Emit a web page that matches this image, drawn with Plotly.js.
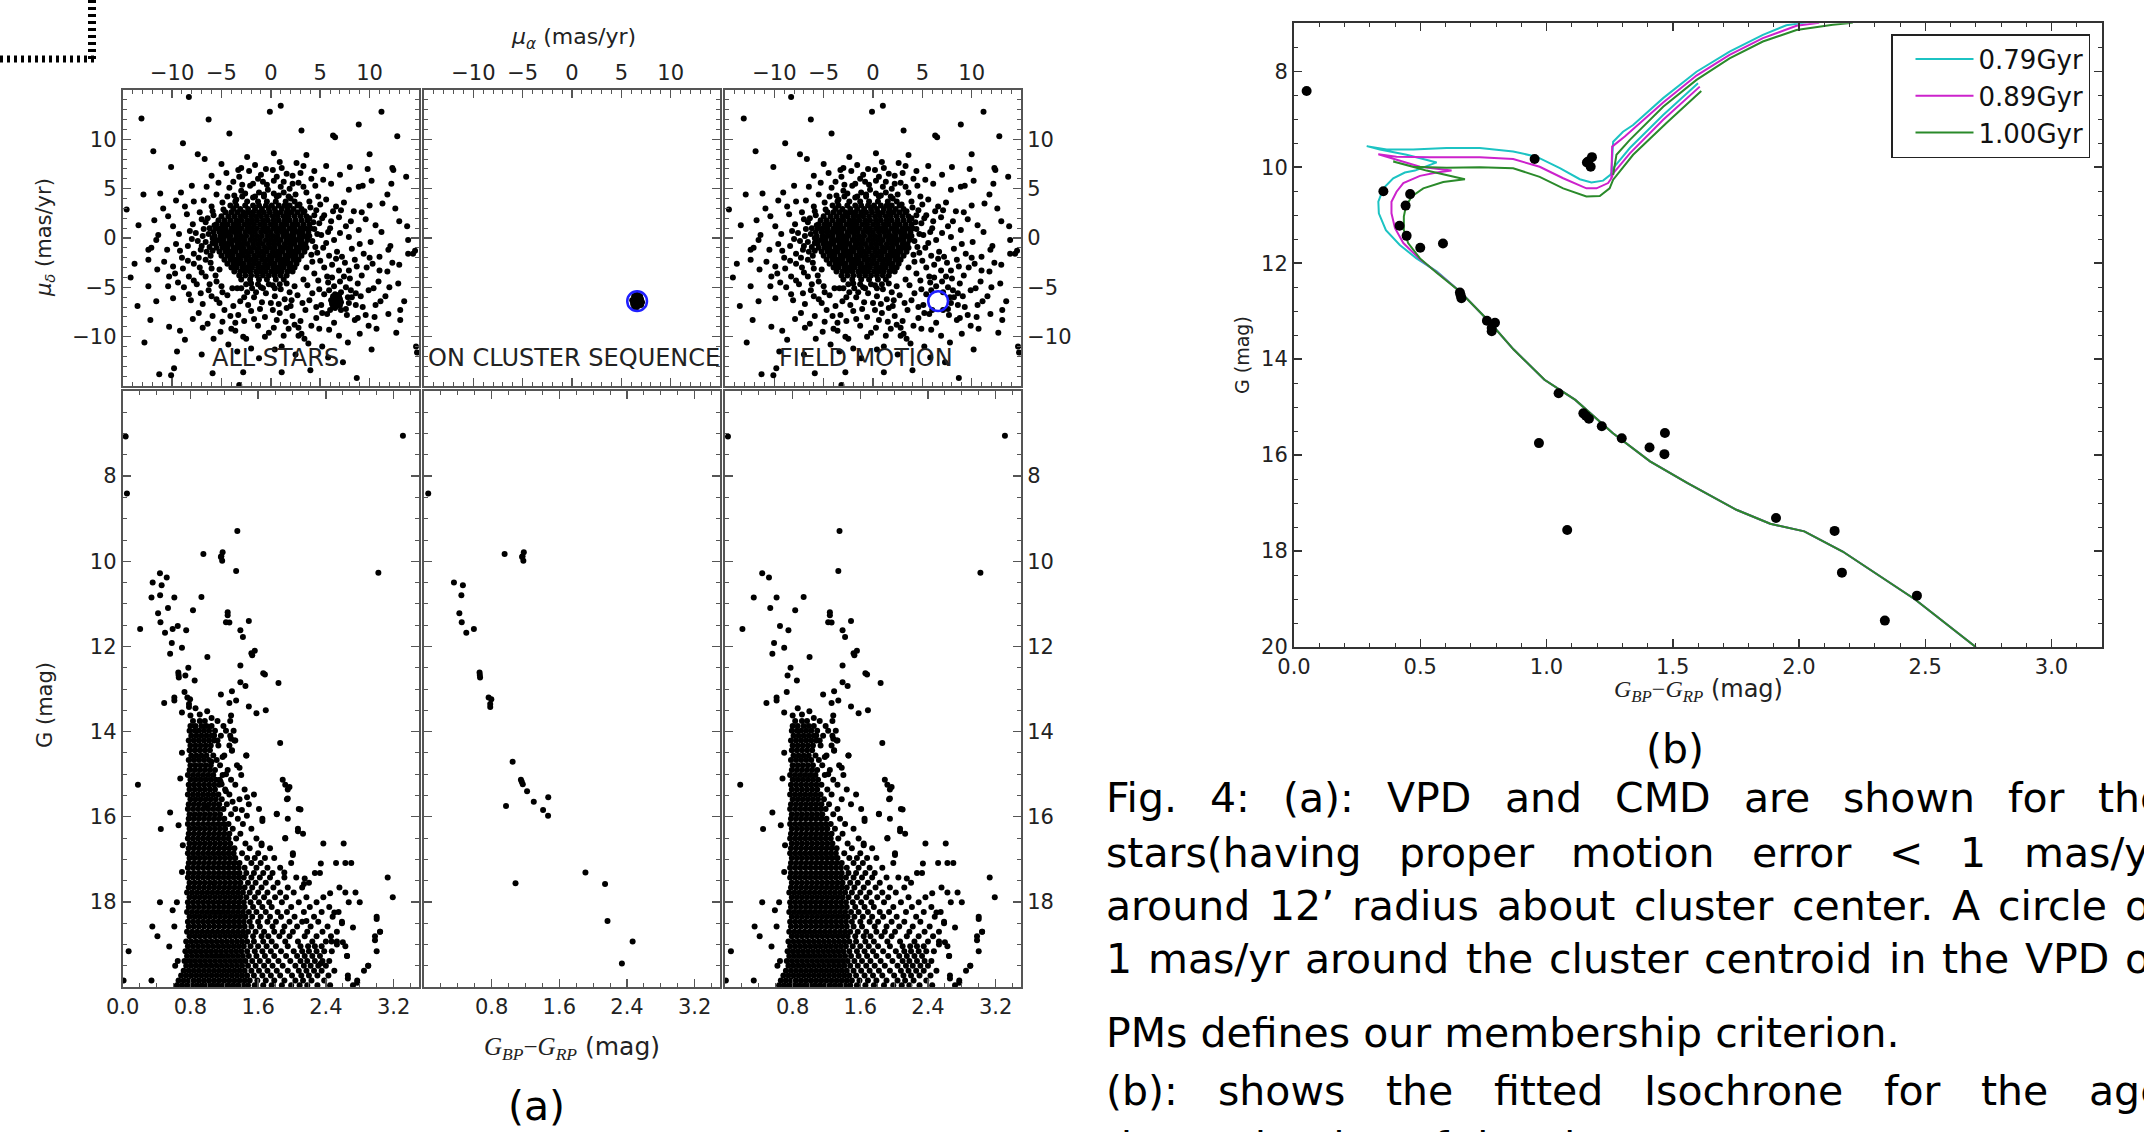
<!DOCTYPE html>
<html><head><meta charset="utf-8">
<script src="https://cdn.plot.ly/plotly-3.0.1.min.js"></script>
<style>html,body{margin:0;padding:0;background:#fff;}#chart{width:2144px;height:1132px;}</style>
</head><body><div id="chart"></div>
<script>
// ================= DATA =================
// Proper motions (mas/yr) of cluster members (inside 1 mas/yr circle)
const memPmra  = [6.6,6.3,6.9,6.5,6.7,6.2,7.0,6.4,6.8,6.6,6.1,7.1,6.5,6.7,6.3,6.9,6.6,6.4,6.8,6.5,6.7,7.0,6.2,6.6,6.4,6.9,6.7,6.5,6.3,6.8,6.6,6.7,6.4,7.0,6.5,6.7];
const memPmdec = [-6.4,-6.1,-6.6,-6.8,-6.0,-6.5,-6.2,-7.0,-6.7,-5.8,-6.3,-6.5,-6.3,-6.9,-5.9,-6.0,-6.2,-6.6,-6.3,-7.1,-6.5,-6.8,-6.7,-6.1,-6.4,-5.9,-6.2,-5.7,-7.0,-6.1,-6.7,-6.4,-6.0,-6.4,-6.6,-5.8];
const pmCentroid = [6.6, -6.4];
const pmRadius = 1.0;

// Field stars proper motions: outliers and halo [pmra, pmdec]
const vpdFieldPairs = [
[-8.3,14.3],[-0.1,12.8],[1.0,13.4],[6.3,10.4],[6.5,10.2],[-8.9,9.6],[-7.4,8.5],[-6.7,8.0],[-10.1,7.2],[10.0,8.5],[12.3,7.1],[12.4,6.9],[13.7,6.2],[-1.6,7.4],[-3.0,7.1],[0.9,7.7],[1.1,7.1],[3.3,7.3],[5.6,7.3],[-6.5,5.2],[-1.8,5.5],[-0.8,5.7],[0.3,5.8],[1.3,5.7],[4.5,5.3],[5.3,5.9],[6.1,5.5],[7.9,4.9],[8.9,5.2],[9.3,5.3],[10.2,5.8],[-9.6,3.8],[-7.8,3.7],[-6.8,3.8],[-10.4,2.2],[-8.7,3.2],[-8.5,2.4],[6.6,3.2],[10.0,3.3],[11.3,3.5],[13.0,1.7],[13.8,1.2],[-13.4,1.3],[-11.4,0.3],[-11.6,-0.2],[-12.4,-1.2],[-12.1,-1.0],[-10.5,-1.2],[-12.4,-2.2],[-11.5,-3.2],[-14.2,-4.0],[-12.4,-4.9],[-11.6,-6.4],[-10.4,-4.9],[-9.9,-6.1],[-12.2,-8.3],[-10.3,-9.0],[-9.2,-9.4],[-8.7,-10.3],[-5.8,-10.2],[-4.0,-9.2],[-3.6,-9.4],[-2.8,-10.0],[-2.5,-10.2],[-0.6,-10.0],[1.8,-9.2],[2.8,-9.1],[3.1,-9.7],[3.4,-10.2],[3.8,-10.7],[4.9,-9.2],[8.5,-8.3],[8.8,-8.1],[9.9,-8.9],[10.7,-9.2],[10.2,-11.3],[13.1,-8.3],[13.1,-7.3],[13.5,-6.4],[12.9,-4.6],[13.0,-2.7],[13.9,-1.6],[14.4,-1.6],[14.6,-1.3],[13.9,-0.2],[14.7,-11.0],[8.7,-14.2],[-11.3,-13.8],[-10.1,-13.9],[-9.8,-13.2],[-5.9,-13.7],[-2.8,-13.6],[1.1,-13.6],[4.0,-13.4],[1.1,-11.0],[0.4,-11.3],[7.3,-12.6],[2.8,-9.9],[7.1,-7.3],[-3.2,-14.9],[14.8,-11.6],
[-4.5,6.6],[-3.2,6.2],[-2.2,6.8],[-1.0,6.4],[0.2,6.9],[2.2,6.3],[2.8,5.6],[-4.2,5.1],[-2.9,5.4],[-0.3,4.9],[1.9,5.0],[3.6,4.6],[-5.5,4.4],[-3.7,4.3],[4.8,4.2],[5.6,3.9],[-6.0,3.2],[-4.9,3.6],[3.9,3.7],[7.4,3.6],[8.4,2.7],[-7.2,2.6],[-5.8,2.3],[4.6,2.8],[5.4,2.3],[6.9,2.1],[9.6,1.9],[-7.9,1.4],[-6.6,1.6],[4.9,1.5],[6.0,1.0],[7.6,1.2],[8.9,0.8],[11.2,0.6],[-9.3,0.4],[-8.2,0.7],[-6.9,0.2],[5.1,0.3],[6.4,-0.2],[7.9,0.1],[10.1,-0.4],[12.1,-0.8],[-9.6,-0.6],[-8.4,-0.8],[-7.1,-1.2],[5.3,-1.0],[6.7,-1.4],[8.2,-1.1],[9.4,-1.6],[11.0,-1.9],[-10.8,-2.4],[-9.0,-2.0],[-7.8,-2.6],[-6.6,-2.2],[5.0,-2.3],[6.2,-2.7],[7.5,-2.5],[8.7,-2.9],[10.3,-2.6],[11.8,-3.4],[-9.7,-3.6],[-8.3,-3.9],[-7.0,-3.5],[-5.6,-3.8],[4.4,-3.6],[5.7,-3.9],[6.9,-3.3],[8.0,-4.1],[9.2,-3.8],[10.9,-4.4],[-8.8,-5.0],[-7.5,-4.7],[-6.3,-5.3],[-5.0,-4.9],[3.7,-4.8],[4.9,-5.2],[7.6,-5.0],[8.6,-5.6],[9.9,-5.3],[11.6,-5.9],[-8.1,-6.3],[-6.9,-6.7],[-5.5,-6.2],[-4.4,-5.8],[-3.1,-6.4],[-1.7,-6.0],[0.0,-6.6],[1.4,-6.2],[2.7,-5.8],[3.9,-6.3],[5.1,-6.8],[7.9,-6.6],[9.3,-7.0],[10.6,-6.8],[-7.3,-7.6],[-5.9,-7.9],[-4.7,-7.3],[-3.3,-7.8],[-2.0,-7.4],[-0.6,-8.0],[0.9,-7.6],[2.2,-7.9],[3.5,-7.3],[4.6,-8.1],[5.7,-7.7],[6.4,-8.6],[7.7,-7.8],[-6.4,-8.7],[-4.9,-8.5],[-1.3,-8.9],[0.3,-9.1],[1.5,-8.5],[4.1,-8.9],[5.9,-9.3],[-2.0,-11.2],[-4.3,-10.8],[5.2,-11.0],
[-6.1,-1.8],[-5.9,-0.5],[-6.2,1.0],[4.2,-0.3],[4.4,0.9],[4.1,-1.7],[3.9,2.0],[-5.2,-3.2],[3.6,-3.0],[-4.8,2.9],[2.9,3.4],[-3.9,-5.1],[2.4,-4.9],[-2.4,-5.5],[1.0,-5.2],[-0.5,-5.6],[-1.2,4.6],[0.8,4.3],[-3.5,3.9],[2.0,4.0],
[5.8,-4.5],[6.4,-4.9],[7.1,-5.5],[5.4,-5.7],[7.8,-6.0],[6.0,-7.3],[8.2,-6.0],[7.0,-4.4],
[-5.9,2.7],[-6.4,2.0],[-7.0,1.9],[-5.7,1.3],[-6.8,0.9],[-7.6,0.5],[-6.3,0.4],[-5.9,0.0],[-6.6,-0.4],[-7.4,-0.3],[-8.0,-0.1],[-6.2,-0.9],[-7.0,-0.8],[-7.8,-1.6],[-6.5,-1.4],[-5.9,-1.3],[-7.3,-2.0],[-8.4,-2.3],[-6.1,-2.5],[-7.2,-3.0],[-6.0,-3.1],[-8.9,-3.1],[-6.6,-3.9],[-7.8,-4.3],[-5.5,-4.4],[-6.2,-4.7],[-4.9,-5.5],[-6.0,-5.9],[-7.1,-5.6],[-9.4,-4.5],[-8.3,-5.7],[-9.2,-1.3],[-9.9,-2.9],[-10.3,-3.9],
[4.5,-0.9],[5.6,-0.5],[4.7,0.4],[5.8,0.6],[4.3,1.6],[5.2,2.0],[6.1,1.7],[4.4,2.3],[3.4,2.7],[4.0,3.1],[5.0,3.4],[6.3,2.7],[4.7,-1.5],[5.9,-1.8],[7.2,-1.9],[4.2,-2.4],[5.4,-3.0],[6.6,-2.1],[7.9,-3.3],[8.5,-2.2],[4.8,-4.3],[6.2,-4.0],[7.4,-3.9],[8.8,-4.6],[9.7,-3.0],[3.3,-4.2],[4.2,-5.6],[5.9,-5.3],[8.1,-5.3],[9.1,-5.9],[7.6,-7.2],[8.6,-6.8],[9.6,-7.8],[4.6,-7.0],[3.2,-6.6],[2.0,-6.9],[3.0,-8.4],[5.2,-7.6],[10.4,-5.1],[11.0,-3.3],[10.0,-2.0],[9.0,-0.6],[7.0,0.5],[8.1,1.7],[7.1,2.8],[9.2,2.6],[10.6,1.3],[11.9,-1.2],[12.3,-2.5],[12.0,-5.0],[11.1,-6.4],[11.9,-7.7],[10.5,-8.0],[9.0,-9.7],[6.9,-9.9],[7.8,-10.6],[12.7,-9.6],
[-2.6,4.5],[-1.8,4.1],[-0.7,4.4],[0.3,4.5],[1.3,4.6],[2.5,4.4],[-4.4,4.2],[-3.0,4.8],[-2.1,5.3],[-0.4,5.4],[1.0,5.2],[2.2,5.5],[3.3,5.2],[-3.8,5.7],[-1.3,6.0],[0.6,6.2],[1.6,6.5],[3.0,6.6],[4.1,6.0],[-5.3,5.6],[-3.3,6.9],[-0.5,7.0],[2.6,7.6],[4.4,6.8],[-6.0,6.3],[-5.0,7.5],[-2.4,8.2],[0.3,8.6],[3.6,8.4],[7.0,6.4],[8.0,7.2],[-8.0,5.3],[-9.1,4.6],[-11.2,4.5],[-10.9,3.0],[-11.8,1.8],[-9.9,1.2],[11.8,4.4],[12.6,3.0],[12.2,5.5],[9.8,7.0],
[-2.0,-4.6],[-1.0,-5.0],[0.2,-4.8],[1.6,-4.6],[-3.0,-5.1],[-1.5,-5.5],[0.4,-5.9],[1.9,-5.5],[-2.7,-6.0],[-0.9,-6.5],[0.8,-6.7],[2.1,-6.3],[-3.8,-6.9],[-2.3,-6.8],[-1.1,-7.2],[0.2,-7.3],[1.6,-7.1],[-5.2,-6.6],[-4.1,-7.9],[-2.7,-8.4],[-1.7,-8.2],[0.6,-8.3],[2.4,-8.8],[-3.6,-8.6],[-0.2,-9.6],[1.3,-9.9],[-5.1,-9.5],[-6.9,-9.1],[-7.9,-8.2],[-3.4,-11.5],[-1.2,-12.2],[2.5,-11.8],[5.8,-12.1],[-7.0,-11.8],[-9.5,-11.5],[-12.8,-10.6],[-13.5,-6.9],[-13.8,-2.6],[-14.6,2.9],[-12.9,4.4],[-11.9,8.8],[-4.2,10.6],[3.1,10.9],[8.9,11.5],[12.8,10.3],[11.2,12.8],[-13.1,12.1],[-6.3,12.0]
];
// Field stars proper motions: dense core, rows of [pmdec, [pmra...]]
const vpdCoreRows = [
[4.2,[-2.9,-1.6,-0.7,0.6,1.8]],
[3.7,[-3.6,-2.4,-1.3,-0.4,0.5,1.5,2.4]],
[3.3,[-4.1,-3.5,-2.6,-1.8,-1.2,-0.5,0.1,0.8,1.4,1.9,2.7]],
[2.95,[-3.8,-3.1,-2.3,-1.6,-0.9,-0.2,0.4,1.1,1.7,2.3,3.1]],
[2.6,[-4.6,-4.0,-3.4,-2.8,-2.3,-1.8,-1.2,-0.7,-0.1,0.5,1.0,1.6,2.1,2.7,3.3]],
[2.2,[-5.0,-4.3,-3.7,-3.1,-2.6,-2.0,-1.5,-1.0,-0.4,0.2,0.7,1.3,1.8,2.4,3.0,3.6]],
[1.8,[-5.3,-4.7,-4.1,-3.5,-3.0,-2.4,-1.9,-1.4,-0.8,-0.3,0.3,0.8,1.4,1.9,2.5,3.1,3.7]],
[1.4,[-5.5,-4.9,-4.4,-3.8,-3.3,-2.7,-2.2,-1.7,-1.1,-0.6,0.0,0.5,1.1,1.6,2.2,2.7,3.3,3.9]],
[1.0,[-5.6,-5.1,-4.6,-4.0,-3.5,-3.0,-2.4,-1.9,-1.4,-0.8,-0.3,0.3,0.8,1.3,1.9,2.4,3.0,3.5,4.0]],
[0.6,[-5.8,-5.2,-4.7,-4.2,-3.7,-3.2,-2.6,-2.1,-1.6,-1.0,-0.5,0.0,0.6,1.1,1.6,2.2,2.7,3.2,3.8]],
[0.2,[-5.7,-5.1,-4.6,-4.1,-3.5,-3.0,-2.5,-1.9,-1.4,-0.9,-0.3,0.2,0.7,1.3,1.8,2.3,2.9,3.4,3.9]],
[-0.2,[-5.8,-5.3,-4.8,-4.2,-3.7,-3.2,-2.7,-2.1,-1.6,-1.1,-0.5,0.0,0.5,1.0,1.6,2.1,2.6,3.1,3.7]],
[-0.6,[-5.6,-5.0,-4.5,-4.0,-3.4,-2.9,-2.4,-1.8,-1.3,-0.8,-0.2,0.3,0.8,1.4,1.9,2.4,3.0,3.5]],
[-1.0,[-5.5,-4.9,-4.4,-3.8,-3.3,-2.8,-2.2,-1.7,-1.2,-0.6,-0.1,0.4,1.0,1.5,2.0,2.6,3.1,3.6]],
[-1.4,[-5.2,-4.6,-4.1,-3.6,-3.0,-2.5,-2.0,-1.4,-0.9,-0.4,0.2,0.7,1.2,1.8,2.3,2.8,3.4]],
[-1.8,[-5.0,-4.4,-3.9,-3.3,-2.8,-2.3,-1.7,-1.2,-0.7,-0.1,0.4,0.9,1.5,2.0,2.5,3.1]],
[-2.2,[-4.7,-4.1,-3.6,-3.1,-2.5,-2.0,-1.5,-0.9,-0.4,0.1,0.7,1.2,1.7,2.3,2.8]],
[-2.6,[-4.4,-3.8,-3.3,-2.8,-2.2,-1.7,-1.2,-0.6,-0.1,0.4,1.0,1.5,2.0,2.6]],
[-3.0,[-4.0,-3.5,-2.9,-2.4,-1.9,-1.3,-0.8,-0.3,0.3,0.8,1.3,1.9,2.4]],
[-3.4,[-3.7,-3.1,-2.6,-2.1,-1.5,-1.0,-0.5,0.1,0.6,1.1,1.7,2.2]],
[-3.8,[-3.2,-2.6,-2.0,-1.4,-0.8,-0.2,0.4,1.0,1.6]],
[-4.2,[-3.0,-2.1,-1.2,-0.4,0.5,1.3]],
[-4.7,[-2.5,-1.3,-0.2,0.9]],
[-5.1,[-3.4,-1.9,-0.8,0.4]]
];

// Cluster members: colour G_BP-G_RP and G magnitude
const memColor = [0.05,0.354,0.46,0.442,0.418,0.446,0.50,0.59,0.953,1.165,1.18,1.175,1.16,0.657,0.663,0.66,0.764,0.796,0.783,0.783,1.048,0.97,1.146,1.156,1.168,1.219,1.298,1.408,1.469,1.467,1.082,1.909,2.141,2.17,2.467,2.34];
const memG     = [8.41,10.5,10.56,10.8,11.22,11.43,11.68,11.59,9.83,9.88,9.79,9.99,9.9,12.61,12.73,12.67,13.2,13.24,13.35,13.42,14.71,15.75,15.13,15.18,15.24,15.4,15.65,15.84,15.54,15.98,17.56,17.31,17.58,18.45,18.93,19.45];

// Field stars CMD: scattered stars [colour, G]
const cmdFieldPairs = [
[0.035,7.07],[3.31,7.05],[1.354,9.29],[1.34,10.23],[3.02,10.27],[0.44,10.28],[0.52,10.38],
[0.34,10.85],[0.61,10.85],[0.93,10.84],[0.535,11.1],[0.83,11.15],
[1.24,11.2],[1.24,11.27],[1.22,11.43],[1.26,11.44],[1.49,11.4],[0.206,11.59],[0.65,11.52],[0.75,11.62],
[1.39,11.62],[1.42,11.78],[0.58,11.92],[0.70,12.03],[0.56,12.17],[1.52,12.16],[1.56,12.1],[1.53,12.21],
[1.0,12.25],[1.39,12.45],[0.775,12.5],[0.74,12.68],[0.85,12.8],[1.66,12.63],[1.68,12.66],
[1.39,12.84],[1.45,12.93],[1.84,12.86],[0.61,13.2],[0.73,13.07],[1.16,13.13],[1.29,13.05],
[0.49,13.33],[0.61,13.27],[1.26,13.33],[1.34,13.27],[1.49,13.41],[1.58,13.57],[1.69,13.5],[1.28,13.62],[0.998,13.52],
[0.86,13.45],[0.91,13.6],[0.7,13.55],[0.8,13.62],[1.05,13.68],
[1.86,14.27],[1.46,14.56],[1.28,14.17],[1.32,14.21],[1.08,14.09],[1.12,14.21],[1.29,14.45],[1.18,14.6],[1.38,14.85],[1.22,15.0],
[0.18,15.25],[0.56,15.9],[0.45,16.29],[0.71,16.67],[1.97,15.3],[1.95,15.57],[1.82,15.93],[2.1,15.83],[1.65,16.1],[2.07,16.34],[1.92,16.5],[1.64,16.67],[2.01,16.9],
[2.59,18.5],[2.53,19.0],[2.65,19.27],[2.77,19.9],[2.66,19.8],[3.0,18.4],[3.04,18.7],[2.98,18.9],[2.9,19.5],[2.34,17.1],[2.15,17.45],[2.45,17.8],[2.5,18.25],[2.72,18.6],[2.6,18.95],[0.59,18.2],[0.55,19.05],[0.7,17.3],[0.66,16.2],[0.68,15.1],[0.7,14.5]
];
// Field stars CMD: dense sequence, rows of [G, [colour...]]
const cmdRows = [
[13.75,[0.83,0.91,0.97,1.12,1.27]],
[13.87,[0.80,0.86,0.93,0.99,1.05,1.19]],
[13.98,[0.79,0.85,0.9,0.96,1.02,1.09,1.22,1.31]],
[14.10,[0.81,0.87,0.93,0.99,1.05,1.16,1.27]],
[14.21,[0.78,0.84,0.9,0.96,1.02,1.08,1.33]],
[14.33,[0.80,0.86,0.92,0.98,1.04,1.13,1.26]],
[14.44,[0.79,0.85,0.91,0.97,1.03,1.29]],
[14.56,[0.81,0.87,0.93,0.99,1.07,1.2,1.46]],
[14.67,[0.78,0.84,0.9,0.96,1.02,1.11]],
[14.79,[0.8,0.86,0.92,0.98,1.04,1.15,1.35]],
[14.90,[0.79,0.85,0.91,0.97,1.03,1.09,1.24]],
[15.02,[0.77,0.83,0.89,0.95,1.01,1.07,1.18,1.4]],
[15.13,[0.8,0.86,0.92,0.98,1.04,1.1,1.28,1.89]],
[15.25,[0.78,0.84,0.9,0.96,1.02,1.08,1.14,1.33,1.92]],
[15.36,[0.79,0.85,0.91,0.97,1.03,1.09,1.21,1.44,1.95]],
[15.48,[0.77,0.83,0.89,0.95,1.01,1.07,1.13,1.26,1.55]],
[15.59,[0.8,0.86,0.92,0.98,1.04,1.1,1.17,1.38,1.94]],
[15.71,[0.78,0.84,0.9,0.96,1.02,1.08,1.14,1.23,1.49]],
[15.82,[0.77,0.83,0.89,0.95,1.01,1.07,1.13,1.19,1.33,1.61,2.08]],
[15.94,[0.79,0.85,0.91,0.97,1.03,1.09,1.15,1.28,1.82]],
[16.05,[0.78,0.84,0.9,0.96,1.02,1.08,1.14,1.2,1.36,1.65,1.95]],
[16.17,[0.77,0.83,0.89,0.95,1.01,1.07,1.13,1.19,1.25,1.42]],
[16.28,[0.79,0.85,0.91,0.97,1.03,1.09,1.15,1.21,1.3,1.52,2.07]],
[16.40,[0.78,0.84,0.9,0.96,1.02,1.08,1.14,1.2,1.26,1.39,2.13]],
[16.51,[0.77,0.83,0.89,0.95,1.01,1.07,1.13,1.19,1.25,1.34,1.58,1.92]],
[16.63,[0.79,0.85,0.91,0.97,1.03,1.09,1.15,1.21,1.27,1.45,1.64,2.37,2.61]],
[16.74,[0.78,0.84,0.9,0.96,1.02,1.08,1.14,1.2,1.26,1.32,1.5,1.74]],
[16.86,[0.77,0.83,0.89,0.95,1.01,1.07,1.13,1.19,1.25,1.31,1.41,1.6,2.01]],
[16.97,[0.79,0.85,0.91,0.97,1.03,1.09,1.15,1.21,1.27,1.33,1.47,1.56,1.68,1.79]],
[17.09,[0.78,0.84,0.9,0.96,1.02,1.08,1.14,1.2,1.26,1.32,1.38,1.52,1.63,1.99,2.52,2.63,2.7]],
[17.20,[0.77,0.83,0.89,0.95,1.01,1.07,1.13,1.19,1.25,1.31,1.37,1.44,1.58,1.71,1.86]],
[17.32,[0.78,0.84,0.9,0.96,1.02,1.08,1.14,1.2,1.26,1.32,1.38,1.46,1.55,1.66,1.77,2.27,2.33]],
[17.43,[0.77,0.83,0.89,0.95,1.01,1.07,1.13,1.19,1.25,1.31,1.37,1.43,1.52,1.62,1.74,1.91,2.05,3.13]],
[17.55,[0.79,0.85,0.91,0.97,1.03,1.09,1.15,1.21,1.27,1.33,1.39,1.48,1.57,1.69,1.83,2.2]],
[17.66,[0.78,0.84,0.9,0.96,1.02,1.08,1.14,1.2,1.26,1.32,1.38,1.44,1.53,1.64,1.78,1.95,2.12,2.56]],
[17.78,[0.76,0.82,0.88,0.94,1.0,1.06,1.12,1.18,1.24,1.3,1.36,1.42,1.5,1.6,1.71,1.86,2.02,2.63,2.75]],
[17.89,[0.79,0.85,0.91,0.97,1.03,1.09,1.15,1.21,1.27,1.33,1.39,1.46,1.56,1.67,1.8,1.93,2.17,2.37,3.19]],
[18.01,[0.44,0.64,0.77,0.83,0.89,0.95,1.01,1.07,1.13,1.19,1.25,1.31,1.37,1.43,1.51,1.61,1.73,1.88,2.08,2.29,2.67,2.8]],
[18.12,[0.78,0.84,0.9,0.96,1.02,1.08,1.14,1.2,1.26,1.32,1.38,1.44,1.54,1.65,1.76,1.99,2.21,2.44]],
[18.24,[0.76,0.82,0.88,0.94,1.0,1.06,1.12,1.18,1.24,1.3,1.36,1.42,1.49,1.58,1.69,1.83,1.94,2.14,2.35,2.55]],
[18.35,[0.79,0.85,0.91,0.97,1.03,1.09,1.15,1.21,1.27,1.33,1.39,1.45,1.53,1.63,1.74,1.87,2.03,2.26,2.48,3.0]],
[18.47,[0.77,0.83,0.89,0.95,1.01,1.07,1.13,1.19,1.25,1.31,1.37,1.43,1.5,1.6,1.71,1.81,1.97,2.12,2.31,2.59]],
[18.58,[0.35,0.61,0.78,0.84,0.9,0.96,1.02,1.08,1.14,1.2,1.26,1.32,1.38,1.44,1.52,1.62,1.77,1.91,2.06,2.22,2.42]],
[18.70,[0.76,0.82,0.88,0.94,1.0,1.06,1.12,1.18,1.24,1.3,1.36,1.42,1.48,1.57,1.67,1.79,1.89,2.01,2.18,2.36,2.53,3.04]],
[18.81,[0.41,0.79,0.85,0.91,0.97,1.03,1.09,1.15,1.21,1.27,1.33,1.39,1.45,1.54,1.64,1.72,1.85,1.97,2.15,2.29,2.46,2.98]],
[18.93,[0.75,0.81,0.87,0.93,0.99,1.05,1.11,1.17,1.23,1.29,1.35,1.41,1.47,1.55,1.66,1.76,1.92,2.07,2.24,2.4,2.53]],
[19.04,[0.77,0.83,0.89,0.95,1.01,1.07,1.13,1.19,1.25,1.31,1.37,1.43,1.51,1.6,1.7,1.81,1.95,2.1,2.19,2.27,2.35,2.63]],
[19.16,[0.07,0.74,0.8,0.86,0.92,0.98,1.04,1.1,1.16,1.22,1.28,1.34,1.4,1.47,1.56,1.65,1.75,1.87,2.02,2.12,2.2,2.29,2.38,2.47,3.0]],
[19.27,[0.76,0.82,0.88,0.94,1.0,1.06,1.12,1.18,1.24,1.3,1.36,1.42,1.49,1.58,1.68,1.79,1.93,2.06,2.15,2.24,2.33,2.65]],
[19.39,[0.65,0.73,0.79,0.85,0.91,0.97,1.03,1.09,1.15,1.21,1.27,1.33,1.39,1.45,1.53,1.62,1.72,1.84,1.98,2.1,2.18,2.27,2.36,2.44]],
[19.50,[0.62,0.75,0.81,0.87,0.93,0.99,1.05,1.11,1.17,1.23,1.29,1.35,1.41,1.48,1.57,1.67,1.77,1.89,2.04,2.14,2.22,2.31,2.4,2.9]],
[19.62,[0.72,0.78,0.84,0.9,0.96,1.02,1.08,1.14,1.2,1.26,1.32,1.38,1.44,1.52,1.61,1.71,1.82,1.95,2.08,2.17,2.26,2.35,2.5,2.85]],
[19.73,[0.69,0.75,0.81,0.87,0.93,0.99,1.05,1.11,1.17,1.23,1.29,1.35,1.41,1.47,1.55,1.65,1.75,1.86,2.0,2.11,2.2,2.3,2.43,2.66]],
[19.85,[0.01,0.34,0.66,0.72,0.78,0.84,0.9,0.96,1.02,1.08,1.14,1.2,1.26,1.32,1.38,1.44,1.5,1.59,1.69,1.79,1.91,2.04,2.13,2.23,2.38,2.77]],
[19.96,[0.64,0.7,0.76,0.82,0.88,0.94,1.0,1.06,1.12,1.18,1.24,1.3,1.36,1.42,1.48,1.56,1.66,1.76,1.88,1.99,2.09,2.18,2.3,2.45,2.72]]
];

// Isochrones (colour, G). Lower main sequence is common to all ages.
const isoAges = ['0.79Gyr','0.89Gyr','1.00Gyr'];
const msColor = [2.70,2.46,2.173,2.021,1.886,1.752,1.557,1.41,1.262,1.114,0.992,0.87,0.77,0.657];
const msG     = [20.0,19.01,18.01,17.59,17.43,17.14,16.58,16.13,15.54,14.85,14.43,13.8,13.2,12.59];
const iso079Color = [0.565,0.485,0.419,0.364,0.336,0.334,0.354,0.393,0.439,0.479,0.565,0.446,0.340,0.288,0.367,0.472,0.604,0.736,0.868,0.960,1.053,1.132,1.178,1.224,1.253,1.264,1.33,1.462,1.60,null,1.257,1.264,1.303,1.343,1.462,1.594,1.725,1.857,1.95,2.03];
const iso079G     = [12.17,11.90,11.62,11.31,10.96,10.72,10.44,10.23,10.11,10.07,9.90,9.74,9.63,9.56,9.63,9.63,9.60,9.60,9.67,9.78,10.02,10.25,10.32,10.28,10.16,10.02,9.6,8.91,8.25,null,10.09,9.47,9.26,9.12,8.56,8.01,7.59,7.24,7.04,6.98];
const iso089Color = [0.578,0.499,0.433,0.400,0.386,0.386,0.406,0.433,0.499,0.565,0.624,0.499,0.334,0.406,0.538,0.736,0.868,0.973,1.066,1.158,1.198,1.244,1.257,1.264,1.33,1.462,1.607,null,1.257,1.26,1.31,1.462,1.594,1.725,1.857,1.99,2.08];
const iso089G     = [12.24,11.92,11.58,11.27,10.96,10.72,10.51,10.33,10.18,10.11,10.07,9.99,9.73,9.78,9.79,9.79,9.83,9.99,10.23,10.44,10.44,10.33,10.23,10.13,9.71,9.01,8.32,null,10.23,9.57,9.36,8.65,8.09,7.66,7.31,7.05,6.99];
const iso100Color = [0.565,0.499,0.452,0.435,0.435,0.443,0.466,0.512,0.591,0.677,0.525,0.393,0.472,0.604,0.736,0.868,0.973,1.066,1.158,1.211,1.25,1.264,1.343,1.475,1.613,null,1.264,1.277,1.33,1.462,1.594,1.725,1.857,1.99,2.134,2.213];
const iso100G     = [12.20,11.90,11.58,11.31,11.03,10.82,10.61,10.44,10.31,10.25,10.07,9.88,9.99,10.01,10.0,10.02,10.20,10.44,10.61,10.60,10.44,10.26,9.74,9.08,8.41,null,10.16,9.74,9.43,8.74,8.18,7.73,7.38,7.14,7.03,6.99];

// Text content
const panelLabels = ['ALL STARS', 'ON CLUSTER SEQUENCE', 'FIELD MOTION'];
const captionText = [
  'Fig. 4: (a): VPD and CMD are shown for the',
  'stars(having proper motion error < 1 mas/yr',
  'around 12\u2019 radius about cluster center. A circle of',
  '1 mas/yr around the cluster centroid in the VPD of',
  'PMs defines our membership criterion.',
  '(b): shows the fitted Isochrone for the age',
  'determination of the cluster.'
];
const captionJustify = [true,true,true,true,false,true,false];

// ================= BUILD =================
const W = 2144, H = 1132;
const fx = p => p / W;
const fy = p => 1 - p / H;

function rowsToXY(rows){ const xs=[], ys=[]; rows.forEach(r => r[1].forEach(v => { xs.push(v); ys.push(r[0]); })); return [xs, ys]; }
const [coreX, coreY] = rowsToXY(vpdCoreRows);
const vpdFieldX = vpdFieldPairs.map(p => p[0]).concat(coreX);
const vpdFieldY = vpdFieldPairs.map(p => p[1]).concat(coreY);
const [bandX, bandG] = rowsToXY(cmdRows);
const cmdFieldX = cmdFieldPairs.map(p => p[0]).concat(bandX);
const cmdFieldG = cmdFieldPairs.map(p => p[1]).concat(bandG);

const dot = {color:'#000', size:6};
function pts(x, y, xa, ya, marker){ return {type:'scatter', mode:'markers', x, y, xaxis:xa, yaxis:ya, marker: marker || dot, showlegend:false, hoverinfo:'skip'}; }

const isoColors = ['#1cc3c3', '#cc22cc', '#2a8a2a'];
const isoX = [iso079Color, iso089Color, iso100Color];
const isoY = [iso079G, iso089G, iso100G];

const traces = [
  pts(vpdFieldX, vpdFieldY, 'x', 'y'),
  pts(memPmra, memPmdec, 'x', 'y'),
  pts(memPmra, memPmdec, 'x2', 'y2'),
  pts(vpdFieldX, vpdFieldY, 'x3', 'y3'),
  pts(cmdFieldX, cmdFieldG, 'x4', 'y4'),
  pts(memColor, memG, 'x4', 'y4'),
  pts(memColor, memG, 'x5', 'y5'),
  pts(cmdFieldX, cmdFieldG, 'x6', 'y6')
];
isoAges.forEach((name, i) => traces.push({
  type:'scatter', mode:'lines', name, legendgroup:name,
  x: msColor.concat(isoX[i]), y: msG.concat(isoY[i]),
  xaxis:'x7', yaxis:'y7', line:{color: isoColors[i], width:2}, hoverinfo:'skip'
}));
traces.push(pts(memColor, memG, 'x7', 'y7', {color:'#000', size:10}));

const tickFont = {family:'DejaVu Sans', size:21, color:'#222'};
const frameA = {showline:true, mirror:'allticks', linecolor:'#555', linewidth:2, ticks:'inside', ticklen:8, tickwidth:1.5, tickcolor:'#555', showgrid:false, zeroline:false, tickfont:tickFont};
const minorOf = d => ({ticks:'inside', ticklen:4, tickwidth:1, tickcolor:'#555', dtick:d, tick0:0, showgrid:false});

const colX = [[122.7,419],[424,720],[725,1021]];
const topRow = [fy(386), fy(90)];
const botRow = [fy(987), fy(391)];
const vpdTicks = [-10,-5,0,5,10];
const gTicks = [8,10,12,14,16,18];

const layout = {
  width:W, height:H, margin:{l:0,r:0,t:0,b:0},
  paper_bgcolor:'#fff', plot_bgcolor:'#fff',
  font:{family:'DejaVu Sans', color:'#222'},
  showlegend:true,
  legend:{x:fx(1891), y:fy(34), xanchor:'left', yanchor:'top', bgcolor:'#fff', bordercolor:'#222', borderwidth:1.5,
          font:{family:'DejaVu Sans', size:26, color:'#111'}, indentation:18, itemwidth:58, tracegroupgap:3, traceorder:'normal'},
  annotations:[], shapes:[]
};

for (let i = 0; i < 3; i++) {
  const dom = [fx(colX[i][0]), fx(colX[i][1])];
  const n1 = i === 0 ? '' : String(i + 1);
  const n2 = String(i + 4);
  layout['xaxis' + n1] = Object.assign({}, frameA, {domain:dom, anchor:'y' + n1, range:[-15,15], side:'top', tickvals:vpdTicks, minor:minorOf(1)});
  layout['yaxis' + n1] = Object.assign({}, frameA, {domain:topRow, anchor:'x' + n1, range:[-15,15], tickvals:vpdTicks, minor:minorOf(1),
      side: i === 2 ? 'right' : 'left', showticklabels: i !== 1});
  layout['xaxis' + n2] = Object.assign({}, frameA, {domain:dom, anchor:'y' + n2, range:[0,3.5],
      tickvals: i === 0 ? [0,0.8,1.6,2.4,3.2] : [0.8,1.6,2.4,3.2], tickformat:'.1f', minor:minorOf(0.2)});
  layout['yaxis' + n2] = Object.assign({}, frameA, {domain:botRow, anchor:'x' + n2, range:[20,6], tickvals:gTicks, minor:minorOf(0.5),
      side: i === 2 ? 'right' : 'left', showticklabels: i !== 1});
}
const frameB = Object.assign({}, frameA, {linecolor:'#333', tickcolor:'#333'});
layout.xaxis7 = Object.assign({}, frameB, {domain:[fx(1294), fx(2102)], anchor:'y7', range:[0,3.2], dtick:0.5, tick0:0, tickformat:'.1f',
   minor:Object.assign(minorOf(0.1), {tickcolor:'#333'})});
layout.yaxis7 = Object.assign({}, frameB, {domain:[fy(647), fy(23.3)], anchor:'x7', range:[20,7], tickvals:[8,10,12,14,16,18,20],
   minor:Object.assign(minorOf(0.5), {tickcolor:'#333'})});

['2','3'].forEach(n => layout.shapes.push({type:'circle', xref:'x' + n, yref:'y' + n,
  x0: pmCentroid[0] - pmRadius, x1: pmCentroid[0] + pmRadius, y0: pmCentroid[1] - pmRadius, y1: pmCentroid[1] + pmRadius,
  line:{color:'#1f1fff', width:2.5}}));
layout.shapes.push({type:'line', xref:'paper', yref:'paper', x0:fx(92), x1:fx(92), y0:fy(0), y1:fy(62), line:{color:'#000', width:8, dash:'3px,4px'}});
layout.shapes.push({type:'line', xref:'paper', yref:'paper', x0:fx(0), x1:fx(96), y0:fy(59), y1:fy(59), line:{color:'#000', width:7, dash:'3px,4px'}});

function ann(text, x, y, size, extra){
  layout.annotations.push(Object.assign({text, x:fx(x), y:fy(y), xref:'paper', yref:'paper', showarrow:false,
    xanchor:'center', yanchor:'middle', font:{family:'DejaVu Sans', size, color:'#222'}}, extra || {}));
}
const serifColor = '<span style="font-family:Liberation Serif"><i>G</i><sub><i>BP</i></sub>\u2212<i>G</i><sub><i>RP</i></sub></span> (mag)';
ann('<i>\u03bc</i><sub><i>\u03b1</i></sub> (mas/yr)', 573, 38, 22);
ann('<i>\u03bc</i><sub><i>\u03b4</i></sub> (mas/yr)', 45, 238, 21, {textangle:-90});
ann('G (mag)', 45, 705, 21, {textangle:-90});
ann(serifColor, 572, 1048, 25);
ann(panelLabels[0], 275, 358, 24);
ann(panelLabels[1], 574, 358, 24);
ann(panelLabels[2], 866, 358, 24);
ann('(a)', 536, 1106, 41, {font:{family:'DejaVu Sans', size:41, color:'#000'}});
ann('(b)', 1675, 749, 41, {font:{family:'DejaVu Sans', size:41, color:'#000'}});
ann('G (mag)', 1242, 355, 19, {textangle:-90});
ann(serifColor, 1698, 690, 24);

// Caption (justified text, placed word by word)
const capSize = 41, capLeft = 1104, capRight = 2163;
const capBaselines = [813, 868, 921, 974, 1048, 1106, 1162];
const ctx = document.createElement('canvas').getContext('2d');
ctx.font = capSize + 'px "DejaVu Sans"';
const esc = s => s.replace(/&/g,'&amp;').replace(/</g,'&lt;').replace(/>/g,'&gt;');
captionText.forEach((line, i) => {
  const yc = capBaselines[i] - capSize * 0.36;
  const capFont = {family:'DejaVu Sans', size:capSize, color:'#000'};
  if (!captionJustify[i]) {
    ann(esc(line), capLeft, yc, capSize, {xanchor:'left', font:capFont});
    return;
  }
  const words = line.split(/\s+/);
  const widths = words.map(w => ctx.measureText(w).width);
  const gap = (capRight - capLeft - widths.reduce((a,b) => a + b, 0)) / (words.length - 1);
  let x = capLeft;
  words.forEach((w, k) => { ann(esc(w), x, yc, capSize, {xanchor:'left', font:capFont}); x += widths[k] + gap; });
});

Plotly.newPlot('chart', traces, layout, {staticPlot:true, displayModeBar:false});
</script></body></html>
